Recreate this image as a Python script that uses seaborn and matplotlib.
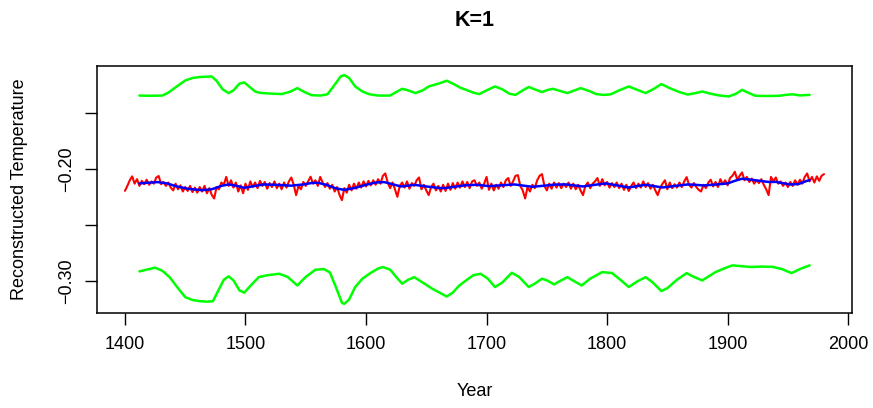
import numpy as np
import matplotlib
matplotlib.use("Agg")
import matplotlib.pyplot as plt
import seaborn as sns

# annual reconstruction (sampled every 2 years), 1400-1980
red_years = np.arange(1400, 1981, 2)
red_vals = [
    -0.2194, -0.2150, -0.2100, -0.2065, -0.2130,
    -0.2090, -0.2150, -0.2105, -0.2135, -0.2095,
    -0.2140, -0.2110, -0.2130, -0.2075, -0.2062,
    -0.2135, -0.2115, -0.2150, -0.2120, -0.2165,
    -0.2190, -0.2130, -0.2180, -0.2145, -0.2200,
    -0.2160, -0.2195, -0.2150, -0.2205, -0.2165,
    -0.2210, -0.2160, -0.2200, -0.2150, -0.2215,
    -0.2170, -0.2230, -0.2262, -0.2160, -0.2180,
    -0.2120, -0.2140, -0.2070, -0.2150, -0.2100,
    -0.2165, -0.2120, -0.2200, -0.2145, -0.2215,
    -0.2130, -0.2185, -0.2110, -0.2160, -0.2120,
    -0.2170, -0.2105, -0.2150, -0.2115, -0.2175,
    -0.2125, -0.2160, -0.2110, -0.2170, -0.2130,
    -0.2180, -0.2120, -0.2165, -0.2110, -0.2075,
    -0.2140, -0.2232, -0.2150, -0.2180, -0.2115,
    -0.2150, -0.2110, -0.2068, -0.2130, -0.2100,
    -0.2150, -0.2070, -0.2120, -0.2160, -0.2125,
    -0.2175, -0.2140, -0.2200, -0.2160, -0.2230,
    -0.2277, -0.2170, -0.2210, -0.2140, -0.2190,
    -0.2130, -0.2175, -0.2120, -0.2165, -0.2110,
    -0.2155, -0.2105, -0.2145, -0.2100, -0.2140,
    -0.2090, -0.2130, -0.2060, -0.2039, -0.2120,
    -0.2170, -0.2120, -0.2180, -0.2247, -0.2150,
    -0.2120, -0.2165, -0.2110, -0.2175, -0.2125,
    -0.2150, -0.2100, -0.2075, -0.2180, -0.2140,
    -0.2190, -0.2232, -0.2160, -0.2130, -0.2190,
    -0.2150, -0.2200, -0.2140, -0.2195, -0.2130,
    -0.2185, -0.2125, -0.2175, -0.2120, -0.2165,
    -0.2110, -0.2160, -0.2115, -0.2170, -0.2110,
    -0.2100, -0.2150, -0.2120, -0.2175, -0.2130,
    -0.2070, -0.2185, -0.2130, -0.2190, -0.2140,
    -0.2175, -0.2120, -0.2160, -0.2100, -0.2080,
    -0.2150, -0.2110, -0.2060, -0.2054, -0.2150,
    -0.2190, -0.2262, -0.2160, -0.2200, -0.2140,
    -0.2170, -0.2100, -0.2060, -0.2045, -0.2150,
    -0.2190, -0.2130, -0.2175, -0.2120, -0.2165,
    -0.2125, -0.2170, -0.2130, -0.2160, -0.2120,
    -0.2175, -0.2130, -0.2180, -0.2140, -0.2190,
    -0.2232, -0.2150, -0.2120, -0.2170, -0.2130,
    -0.2110, -0.2080, -0.2150, -0.2090, -0.2145,
    -0.2115, -0.2165, -0.2125, -0.2160, -0.2120,
    -0.2170, -0.2130, -0.2185, -0.2140, -0.2195,
    -0.2150, -0.2120, -0.2170, -0.2130, -0.2165,
    -0.2110, -0.2160, -0.2125, -0.2175, -0.2140,
    -0.2190, -0.2232, -0.2170, -0.2130, -0.2100,
    -0.2180, -0.2120, -0.2170, -0.2135, -0.2165,
    -0.2120, -0.2160, -0.2110, -0.2072, -0.2140,
    -0.2165, -0.2125, -0.2160, -0.2185, -0.2200,
    -0.2140, -0.2170, -0.2120, -0.2095, -0.2155,
    -0.2115, -0.2160, -0.2090, -0.2135, -0.2100,
    -0.2145, -0.2080, -0.2060, -0.2024, -0.2095,
    -0.2060, -0.2030, -0.2100, -0.2070, -0.2115,
    -0.2085, -0.2130, -0.2100, -0.2125, -0.2090,
    -0.2140, -0.2180, -0.2232, -0.2070, -0.2110,
    -0.2075, -0.2130, -0.2110, -0.2150, -0.2120,
    -0.2160, -0.2115, -0.2150, -0.2100, -0.2140,
    -0.2095, -0.2130, -0.2070, -0.2039, -0.2110,
    -0.2070, -0.2120, -0.2065, -0.2105, -0.2060,
    -0.2045,
]

# smoothed reconstruction
blue_years = [1412, 1419, 1427, 1435, 1443, 1452, 1464, 1472, 1480, 1486,
              1493, 1499, 1507, 1515, 1525, 1538, 1548, 1555, 1560, 1567,
              1575, 1582, 1590, 1600, 1608, 1615, 1622, 1629, 1635, 1640,
              1650, 1660, 1665, 1672, 1682, 1692, 1702, 1712, 1723, 1731,
              1738, 1748, 1757, 1766, 1772, 1780, 1790, 1799, 1808, 1818,
              1825, 1832, 1839, 1846, 1853, 1860, 1867, 1873, 1880, 1890,
              1900, 1906, 1912, 1920, 1928, 1935, 1940, 1947, 1952, 1959,
              1964, 1968]
blue_vals = [-0.2128, -0.2122, -0.2116, -0.2128, -0.2155, -0.2175, -0.2188, -0.2180, -0.2150, -0.2137,
             -0.2150, -0.2167, -0.2152, -0.2137, -0.2140, -0.2148, -0.2137, -0.2124, -0.2122, -0.2140,
             -0.2172, -0.2185, -0.2170, -0.2140, -0.2120, -0.2116, -0.2135, -0.2155, -0.2148, -0.2140,
             -0.2155, -0.2168, -0.2170, -0.2160, -0.2145, -0.2140, -0.2152, -0.2145, -0.2137, -0.2148,
             -0.2158, -0.2148, -0.2138, -0.2137, -0.2145, -0.2155, -0.2140, -0.2128, -0.2145, -0.2164,
             -0.2152, -0.2140, -0.2152, -0.2164, -0.2155, -0.2146, -0.2137, -0.2140, -0.2146, -0.2138,
             -0.2128, -0.2105, -0.2086, -0.2095, -0.2107, -0.2116, -0.2114, -0.2128, -0.2137, -0.2133,
             -0.2112, -0.2098]

# upper confidence band
upper_years = [1412, 1420, 1431, 1436, 1443, 1450, 1456, 1462, 1468, 1472,
               1476, 1481, 1486, 1490, 1495, 1499, 1503, 1508, 1512, 1520,
               1530, 1537, 1543, 1549, 1555, 1562, 1568, 1574, 1579, 1582,
               1586, 1591, 1597, 1603, 1610, 1620, 1625, 1630, 1635, 1641,
               1647, 1652, 1660, 1667, 1673, 1678, 1683, 1689, 1694, 1700,
               1707, 1713, 1719, 1724, 1730, 1735, 1741, 1746, 1751, 1755,
               1761, 1767, 1773, 1778, 1785, 1791, 1797, 1803, 1810, 1818,
               1825, 1832, 1839, 1845, 1852, 1860, 1867, 1873, 1879, 1886,
               1893, 1901, 1907, 1912, 1917, 1923, 1933, 1943, 1948, 1954,
               1960, 1968]
upper_vals = [-0.1346, -0.1348, -0.1346, -0.1320, -0.1265, -0.1212, -0.1190, -0.1181, -0.1178, -0.1176,
              -0.1215, -0.1290, -0.1324, -0.1300, -0.1240, -0.1229, -0.1265, -0.1310, -0.1322, -0.1328,
              -0.1333, -0.1312, -0.1280, -0.1315, -0.1343, -0.1346, -0.1335, -0.1250, -0.1175, -0.1164,
              -0.1190, -0.1265, -0.1310, -0.1335, -0.1346, -0.1346, -0.1315, -0.1286, -0.1300, -0.1324,
              -0.1300, -0.1265, -0.1240, -0.1214, -0.1245, -0.1275, -0.1295, -0.1320, -0.1333, -0.1300,
              -0.1265, -0.1290, -0.1330, -0.1340, -0.1300, -0.1270, -0.1295, -0.1315, -0.1295, -0.1286,
              -0.1305, -0.1324, -0.1300, -0.1280, -0.1305, -0.1333, -0.1340, -0.1335, -0.1300, -0.1265,
              -0.1295, -0.1324, -0.1285, -0.1244, -0.1280, -0.1315, -0.1337, -0.1325, -0.1310, -0.1330,
              -0.1345, -0.1354, -0.1330, -0.1295, -0.1320, -0.1348, -0.1350, -0.1348, -0.1340, -0.1335,
              -0.1345, -0.1340]

# lower confidence band
lower_years = [1412, 1418, 1425, 1431, 1437, 1444, 1450, 1456, 1462, 1468,
               1473, 1477, 1482, 1486, 1490, 1495, 1499, 1504, 1511, 1518,
               1528, 1535, 1543, 1550, 1558, 1565, 1570, 1575, 1580, 1582,
               1586, 1591, 1597, 1603, 1610, 1614, 1620, 1625, 1630, 1635,
               1640, 1647, 1655, 1661, 1667, 1672, 1677, 1683, 1689, 1695,
               1701, 1707, 1713, 1721, 1727, 1735, 1740, 1746, 1751, 1756,
               1762, 1767, 1773, 1779, 1786, 1796, 1804, 1811, 1818, 1825,
               1832, 1838, 1845, 1850, 1858, 1866, 1872, 1879, 1885, 1890,
               1897, 1904, 1912, 1920, 1928, 1937, 1945, 1953, 1960, 1968]
lower_vals = [-0.2911, -0.2895, -0.2878, -0.2905, -0.2962, -0.3060, -0.3140, -0.3165, -0.3176, -0.3180,
              -0.3176, -0.3090, -0.2985, -0.2955, -0.2990, -0.3080, -0.3100, -0.3040, -0.2962, -0.2945,
              -0.2932, -0.2960, -0.3036, -0.2960, -0.2896, -0.2890, -0.2920, -0.3050, -0.3190, -0.3200,
              -0.3160, -0.3050, -0.2976, -0.2930, -0.2885, -0.2872, -0.2895, -0.2960, -0.3020, -0.2985,
              -0.2962, -0.3010, -0.3065, -0.3100, -0.3134, -0.3100, -0.3040, -0.2991, -0.2945, -0.2932,
              -0.2975, -0.3050, -0.3010, -0.2923, -0.2960, -0.3050, -0.3020, -0.2976, -0.2995, -0.3027,
              -0.2990, -0.2962, -0.3000, -0.3036, -0.2975, -0.2917, -0.2925, -0.2985, -0.3050, -0.3000,
              -0.2962, -0.3010, -0.3086, -0.3060, -0.2985, -0.2926, -0.2960, -0.2991, -0.2950, -0.2917,
              -0.2885, -0.2857, -0.2865, -0.2872, -0.2868, -0.2870, -0.2890, -0.2926, -0.2890, -0.2857]

x_ticks = [1400, 1500, 1600, 1700, 1800, 1900, 2000]
y_ticks = [-0.30, -0.25, -0.20, -0.15]
y_tick_labels = ["\u22120.30", "", "\u22120.20", ""]

sns.set_style("white")
plt.rcParams["font.family"] = ["Liberation Sans", "DejaVu Sans"]
plt.rcParams["text.color"] = "black"
plt.rcParams["axes.labelcolor"] = "black"

fig = plt.figure(figsize=(8.73, 4.08), dpi=100)
ax = fig.add_axes([97 / 873, 1 - 313 / 408, 755 / 873, 247 / 408])

sns.lineplot(x=red_years, y=red_vals, color="#ff0000", linewidth=1.5, ax=ax)
sns.lineplot(x=blue_years, y=blue_vals, color="#0000ff", linewidth=1.8, ax=ax)
sns.lineplot(x=upper_years, y=upper_vals, color="#00ff00", linewidth=1.8, ax=ax)
sns.lineplot(x=lower_years, y=lower_vals, color="#00ff00", linewidth=1.8, ax=ax)

ax.set_xlim(1376.8, 2003.2)
ax.set_ylim(-0.3281, -0.1083)
ax.set_xticks(x_ticks)
ax.set_xticklabels([str(t) for t in x_ticks])
ax.set_yticks(y_ticks)
ax.set_yticklabels(y_tick_labels, rotation=90, va="center")

for s in ax.spines.values():
    s.set_visible(True)
    s.set_color("black")
    s.set_linewidth(1.1)

ax.tick_params(axis="both", direction="out", length=8.6, width=1.0,
               colors="black", labelcolor="black", labelsize=13,
               bottom=True, left=True)
ax.tick_params(axis="x", pad=8)
ax.tick_params(axis="y", pad=7)

ax.set_xlabel("Year", fontsize=13, va="center", color="black")
ax.xaxis.set_label_coords(0.5, (313 - 392) / 247)
ax.set_ylabel("Reconstructed Temperature", fontsize=13, va="center", color="black")
ax.yaxis.set_label_coords((20 - 97) / 755, 0.5)

fig.text(474.5 / 873, 1 - 20 / 408, "K=1", fontsize=15.5, fontweight="bold",
         ha="center", va="center", color="black")

fig.savefig("out.png", dpi=100)
